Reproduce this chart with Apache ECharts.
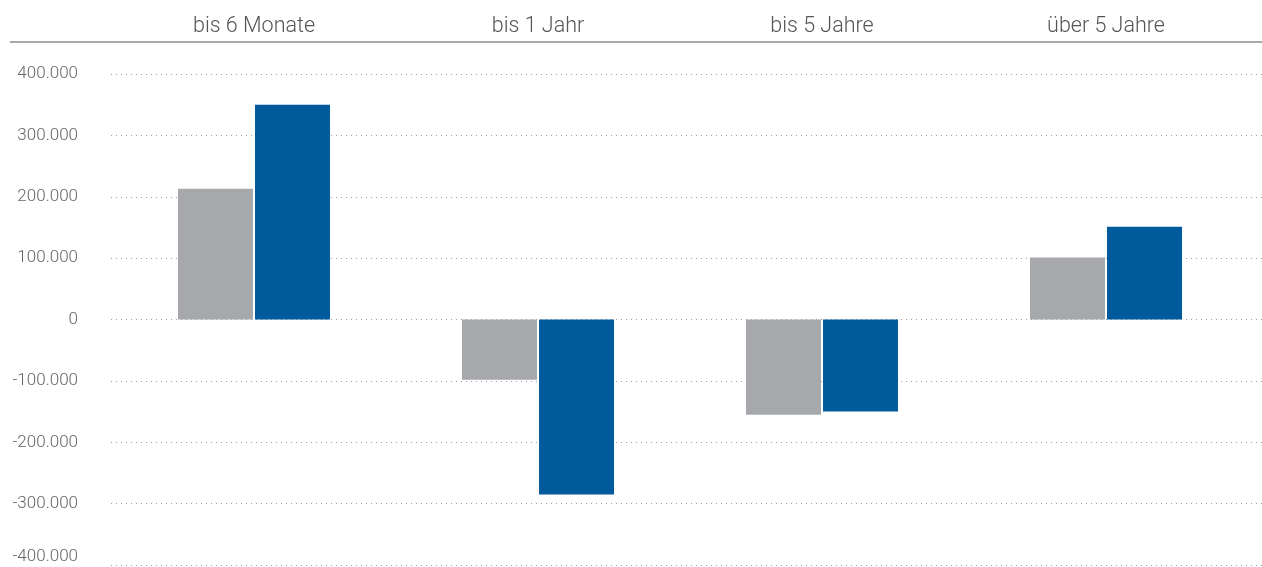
<!DOCTYPE html>
<html>
<head>
<meta charset="utf-8">
<script src="https://cdn.jsdelivr.net/npm/echarts@6/dist/echarts.min.js"></script>
<style>
  html, body { margin: 0; padding: 0; background: #fff; }
  #chart { width: 1262px; height: 567px; }
</style>
</head>
<body>
<div id="chart"></div>
<script>
  // Laufzeiten
  const categories = ['bis 6 Monate', 'bis 1 Jahr', 'bis 5 Jahre', 'über 5 Jahre'];
  // Vorjahr (grau) und Berichtsjahr (blau)
  const vorjahr = [213000, -98000, -155000, 101000];
  const berichtsjahr = [350000, -285000, -150000, 151000];
  const yTicks = [-400000, -300000, -200000, -100000, 0, 100000, 200000, 300000, 400000];

  const fontFamily = 'Roboto, "Open Sans", sans-serif';

  function fmt(v) {
    if (v === 0) return '0';
    let s = Math.abs(v).toString().replace(/\B(?=(\d{3})+(?!\d))/g, '.');
    return (v < 0 ? '-' : '') + s;
  }

  let chart = echarts.init(document.getElementById('chart'));

  let option = {
    animation: false,
    grid: [
      // Gitterlinien + y-Achse
      {left: 111, right: 0, top: 74, bottom: 2, outerBoundsMode: 'none'},
      // Balken + Kategorien
      {left: 112, right: 14, top: 74, bottom: 2, outerBoundsMode: 'none'}
    ],
    xAxis: [
      {
        gridIndex: 0, type: 'category', data: categories, show: false
      },
      {
        gridIndex: 1, type: 'category', data: categories, position: 'top',
        offset: 28,
        axisLine: {show: false},
        axisTick: {show: false},
        axisLabel: {
          color: '#555', fontSize: 21.5, fontFamily: fontFamily, fontWeight: 300, margin: 8
        }
      }
    ],
    yAxis: [
      {
        gridIndex: 0, type: 'value', min: yTicks[0], max: yTicks[yTicks.length - 1], interval: 100000,
        axisLine: {show: false},
        axisTick: {show: false},
        axisLabel: {
          color: '#666', fontSize: 17, fontFamily: fontFamily, fontWeight: 300, margin: 33,
          verticalAlignMinLabel: 'bottom',
          formatter: fmt
        },
        splitLine: {lineStyle: {color: '#a0a0a0', type: [1, 4], width: 1}}
      },
      {
        gridIndex: 1, type: 'value', min: yTicks[0], max: yTicks[yTicks.length - 1], interval: 100000,
        show: false
      }
    ],
    graphic: [
      {
        type: 'line', z: 10,
        shape: {x1: 10, y1: 42, x2: 1262, y2: 42},
        style: {stroke: '#aaaaaa', lineWidth: 2}
      }
    ],
    series: [
      {
        name: 'Vorjahr', type: 'bar', xAxisIndex: 1, yAxisIndex: 1,
        data: vorjahr, barWidth: 75, barGap: '2.7%',
        itemStyle: {color: '#a7a8ab'}
      },
      {
        name: 'Berichtsjahr', type: 'bar', xAxisIndex: 1, yAxisIndex: 1,
        data: berichtsjahr, barWidth: 75,
        itemStyle: {color: '#005a9c'}
      }
    ]
  };

  chart.setOption(option);
</script>
</body>
</html>
